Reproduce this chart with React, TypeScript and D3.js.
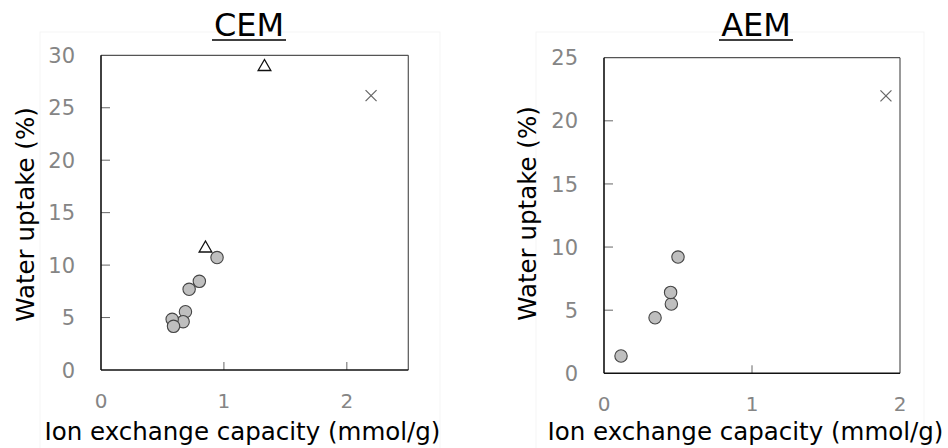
import React from "react";
import * as d3 from "d3";

const cemCircleX = [0.944, 0.8, 0.717, 0.687, 0.668, 0.579, 0.59];
const cemCircleY = [10.72, 8.45, 7.69, 5.56, 4.61, 4.83, 4.16];
const cemTriX = [0.85, 1.33];
const cemTriY = [11.6, 28.9];
const cemCrossX = [2.197];
const cemCrossY = [26.15];

const aemCircleX = [0.115, 0.345, 0.455, 0.45, 0.5];
const aemCircleY = [1.37, 4.4, 5.49, 6.41, 9.21];
const aemCrossX = [1.905];
const aemCrossY = [21.98];

const cemXTicks = [0, 1, 2];
const cemYTicks = [0, 5, 10, 15, 20, 25, 30];
const aemXTicks = [0, 1, 2];
const aemYTicks = [0, 5, 10, 15, 20, 25];

const FONT = "'DejaVu Sans', Verdana, sans-serif";
const TICK_COLOR = "#858585";

type PanelProps = {
  title: string;
  box: { l: number; r: number; t: number; b: number };
  xMax: number;
  yMax: number;
  xTicks: number[];
  yTicks: number[];
  circX: number[];
  circY: number[];
  triX: number[];
  triY: number[];
  crossX: number[];
  crossY: number[];
  titleX: number;
  xTitleX: number;
  yTitleX: number;
  yTitleY: number;
  xLabelY: number;
  frame: { l: number; r: number; t: number; b: number };
};

function Panel(p: PanelProps) {
  const x = d3.scaleLinear().domain([0, p.xMax]).range([p.box.l, p.box.r]);
  const y = d3.scaleLinear().domain([0, p.yMax]).range([p.box.b, p.box.t]);
  const tri = d3.symbol().type(d3.symbolTriangle).size(70)();
  const titleW = p.title.length * 24;
  return (
    <g>
      <rect x={p.frame.l} y={p.frame.t} width={p.frame.r - p.frame.l} height={p.frame.b - p.frame.t} fill="none" stroke="#f5f5f5" strokeWidth={1} />
      <text x={p.titleX} y={36} textAnchor="middle" fontSize={32} fontFamily={FONT} fill="#000">{p.title}</text>
      <line x1={p.titleX - titleW / 2 - 1} x2={p.titleX + titleW / 2 + 1} y1={40} y2={40} stroke="#000" strokeWidth={1.5} />
      <line x1={p.box.l} x2={p.box.r} y1={p.box.t} y2={p.box.t} stroke="#555" strokeWidth={1.2} />
      <line x1={p.box.r} x2={p.box.r} y1={p.box.t} y2={p.box.b} stroke="#555" strokeWidth={1.2} />
      {p.yTicks.map((t) => (
        <g key={"y" + t}>
          {t > 0 && t < p.yMax && (
            <line x1={p.box.l} x2={p.box.l + 9} y1={y(t)} y2={y(t)} stroke="#666" strokeWidth={1} />
          )}
          <text x={p.box.l - 26} y={y(t)} dy="0.36em" textAnchor="end" fontSize={21} fontFamily={FONT} fill={TICK_COLOR}>{t}</text>
        </g>
      ))}
      {p.xTicks.map((t) => (
        <g key={"x" + t}>
          {t > 0 && x(t) < p.box.r - 1 && (
            <line x1={x(t)} x2={x(t)} y1={p.box.b} y2={p.box.b - 8} stroke="#666" strokeWidth={1} />
          )}
          <text x={x(t)} y={p.xLabelY} dy="0.36em" textAnchor="middle" fontSize={20} fontFamily={FONT} fill={TICK_COLOR}>{t}</text>
        </g>
      ))}
      <line x1={p.box.l} x2={p.box.l} y1={p.box.t} y2={p.box.b} stroke="#111" strokeWidth={1.6} />
      <line x1={p.box.l} x2={p.box.r} y1={p.box.b} y2={p.box.b} stroke="#111" strokeWidth={1.6} />
      {p.triX.map((v, i) => (
        <path key={"t" + i} d={tri || ""} transform={`translate(${x(v)},${y(p.triY[i])})`} fill="#fff" stroke="#111" strokeWidth={1.3} />
      ))}
      {p.circX.map((v, i) => (
        <circle key={"c" + i} cx={x(v)} cy={y(p.circY[i])} r={6.2} fill="#bfbfbf" stroke="#444" strokeWidth={1.1} />
      ))}
      {p.crossX.map((v, i) => {
        const cx = x(v);
        const cy = y(p.crossY[i]);
        const s = 5.5;
        return (
          <g key={"x" + i} stroke="#666" strokeWidth={1.2}>
            <line x1={cx - s} x2={cx + s} y1={cy - s} y2={cy + s} />
            <line x1={cx - s} x2={cx + s} y1={cy + s} y2={cy - s} />
          </g>
        );
      })}
      <text x={p.xTitleX} y={431} dy="0.36em" textAnchor="middle" fontSize={24.5} fontFamily={FONT} fill="#000">Ion exchange capacity (mmol/g)</text>
      <text transform={`translate(${p.yTitleX},${p.yTitleY}) rotate(-90)`} dy="0.36em" textAnchor="middle" fontSize={24.5} fontFamily={FONT} fill="#000">Water uptake (%)</text>
    </g>
  );
}

export default function App() {
  return (
    <svg width={948} height={448} style={{ position: "absolute", left: 0, top: 0, background: "#fff" }}>
      <Panel
        title="CEM"
        box={{ l: 101, r: 408.3, t: 55.3, b: 370 }}
        xMax={2.5}
        yMax={30}
        xTicks={cemXTicks}
        yTicks={cemYTicks}
        circX={cemCircleX}
        circY={cemCircleY}
        triX={cemTriX}
        triY={cemTriY}
        crossX={cemCrossX}
        crossY={cemCrossY}
        titleX={249}
        xTitleX={242.5}
        yTitleX={25}
        yTitleY={214.5}
        xLabelY={401}
        frame={{ l: 40, r: 440, t: 32, b: 460 }}
      />
      <Panel
        title="AEM"
        box={{ l: 604, r: 900, t: 57.7, b: 373.3 }}
        xMax={2}
        yMax={25}
        xTicks={aemXTicks}
        yTicks={aemYTicks}
        circX={aemCircleX}
        circY={aemCircleY}
        triX={[]}
        triY={[]}
        crossX={aemCrossX}
        crossY={aemCrossY}
        titleX={756}
        xTitleX={745.5}
        yTitleX={527.3}
        yTitleY={213.5}
        xLabelY={404}
        frame={{ l: 536, r: 924, t: 32, b: 460 }}
      />
    </svg>
  );
}
